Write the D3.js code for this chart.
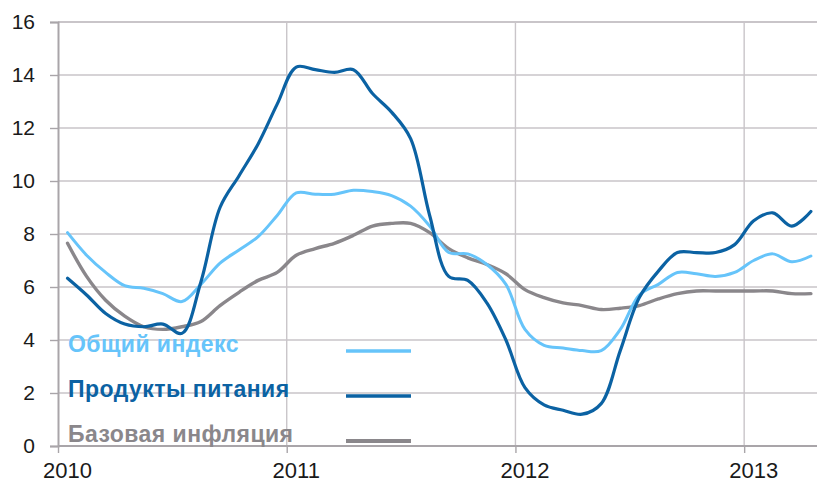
<!DOCTYPE html>
<html>
<head>
<meta charset="utf-8">
<script src="https://cdn.jsdelivr.net/npm/d3@7"></script>
<style>
  html, body { margin: 0; padding: 0; background: #fff; }
  svg { display: block; }
  text { font-family: "Liberation Sans", Arial, sans-serif; }
</style>
</head>
<body>
<svg id="chart" width="817" height="483"></svg>
<script>
// Monthly year-on-year inflation, %, January 2010 – April 2013
const years = ["2010", "2011", "2012", "2013"];
const yTicks = [0, 2, 4, 6, 8, 10, 12, 14, 16];

const headline = [
  8.05, 7.2, 6.55, 6.05, 5.95, 5.75, 5.45, 6.1, 6.9, 7.4, 7.9, 8.7,
  9.55, 9.5, 9.5, 9.65, 9.6, 9.45, 9.05, 8.3, 7.3, 7.25, 6.85, 6.1,
  4.4, 3.8, 3.7, 3.6, 3.6, 4.4, 5.7, 6.1, 6.55, 6.5, 6.4, 6.55,
  7.0, 7.25, 6.95, 7.17
];
const food = [
  6.33, 5.7, 5.0, 4.6, 4.5, 4.6, 4.25, 6.2, 9.0, 10.2, 11.4, 12.9,
  14.3, 14.2, 14.1, 14.2, 13.3, 12.6, 11.6, 8.7, 6.4, 6.25, 5.4, 4.0,
  2.2, 1.55, 1.35, 1.2, 1.6, 3.6, 5.6, 6.6, 7.3, 7.3, 7.3, 7.6,
  8.5, 8.8, 8.3, 8.85
];
const core = [
  7.65, 6.4, 5.5, 4.9, 4.5, 4.4, 4.5, 4.7, 5.3, 5.8, 6.25, 6.55,
  7.2, 7.45, 7.65, 7.95, 8.3, 8.4, 8.4, 8.05, 7.45, 7.1, 6.85, 6.5,
  5.9, 5.6, 5.4, 5.3, 5.15, 5.2, 5.3, 5.55, 5.75, 5.85, 5.85, 5.85,
  5.85, 5.85, 5.75, 5.75
];

const seriesNames = ["Общий индекс", "Продукты питания", "Базовая инфляция"];
const seriesColors = ["#66C4FA", "#0B62A3", "#8A878B"];
const seriesWidths = [3, 3.2, 3.4];

const svg = d3.select("#chart");
const plotLeft = 58, plotTop = 22, plotBottom = 446;
const monthW = 19.06;
const nMonths = headline.length;

// month index -> x; each value sits in the middle of its month
const x = d3.scaleLinear().domain([0, nMonths]).range([plotLeft, plotLeft + nMonths * monthW]);
const y = d3.scaleLinear().domain([0, 16]).range([plotBottom, plotTop]);

const gridColor = "#C9C5C9";
const axisColor = "#A9A5A9";

// horizontal gridlines
svg.append("g").selectAll("line").data(yTicks.filter(d => d > 0)).join("line")
  .attr("x1", plotLeft).attr("x2", 817)
  .attr("y1", d => y(d)).attr("y2", d => y(d))
  .attr("stroke", gridColor)
  .attr("stroke-width", d => d === 16 ? 2 : 1.4);

// vertical gridlines at year boundaries
svg.append("g").selectAll("line").data(years.slice(1)).join("line")
  .attr("x1", (d, i) => x((i + 1) * 12)).attr("x2", (d, i) => x((i + 1) * 12))
  .attr("y1", plotTop).attr("y2", plotBottom)
  .attr("stroke", gridColor).attr("stroke-width", 1.4);

// y axis
const yAxis = svg.append("g").attr("transform", `translate(${plotLeft},0)`)
  .call(d3.axisLeft(y).tickValues(yTicks).tickSize(8).tickPadding(15));
yAxis.select(".domain").attr("stroke", axisColor).attr("stroke-width", 2);
yAxis.selectAll(".tick line").attr("stroke", axisColor).attr("stroke-width", 1.4);
yAxis.selectAll("text").attr("font-size", 21).attr("fill", "#1a1a1a")
  .attr("font-family", "'Liberation Sans', Arial, sans-serif");

// x axis: ticks at year boundaries
const yearStarts = years.map((d, i) => i * 12);
const xAxis = svg.append("g").attr("transform", `translate(0,${plotBottom})`)
  .call(d3.axisBottom(x).tickValues(yearStarts).tickSize(7).tickFormat(""));
xAxis.select(".domain").attr("stroke", axisColor).attr("stroke-width", 2)
  .attr("d", `M${plotLeft},0H817`);
xAxis.selectAll(".tick line").attr("stroke", axisColor).attr("stroke-width", 1.4);

// year labels under the January values
svg.append("g").selectAll("text").data(years).join("text")
  .attr("x", (d, i) => x(i * 12 + 0.5))
  .attr("y", 478)
  .attr("text-anchor", "middle")
  .attr("font-size", 22)
  .attr("fill", "#1a1a1a")
  .text(d => d);

// lines
const line = d3.line()
  .x((d, i) => x(i + 0.5))
  .y(d => y(d))
  .curve(d3.curveCatmullRom.alpha(0.5));

const allSeries = [headline, food, core];
// draw core first, then headline, then food on top
[2, 0, 1].forEach(k => {
  svg.append("path")
    .datum(allSeries[k])
    .attr("fill", "none")
    .attr("stroke", seriesColors[k])
    .attr("stroke-width", seriesWidths[k])
    .attr("stroke-linejoin", "round")
    .attr("stroke-linecap", "round")
    .attr("d", line);
});

// legend
const legendY = [352, 397, 442];
const legend = svg.append("g");
seriesNames.forEach((name, k) => {
  legend.append("text")
    .attr("x", 68).attr("y", legendY[k])
    .attr("font-size", 23).attr("font-weight", "bold")
    .attr("letter-spacing", 0.45)
    .attr("fill", seriesColors[k])
    .text(name);
  legend.append("line")
    .attr("x1", 346).attr("x2", 411)
    .attr("y1", legendY[k] - 1).attr("y2", legendY[k] - 1)
    .attr("stroke", seriesColors[k])
    .attr("stroke-width", k === 2 ? 4 : 3.4);
});
</script>
</body>
</html>
